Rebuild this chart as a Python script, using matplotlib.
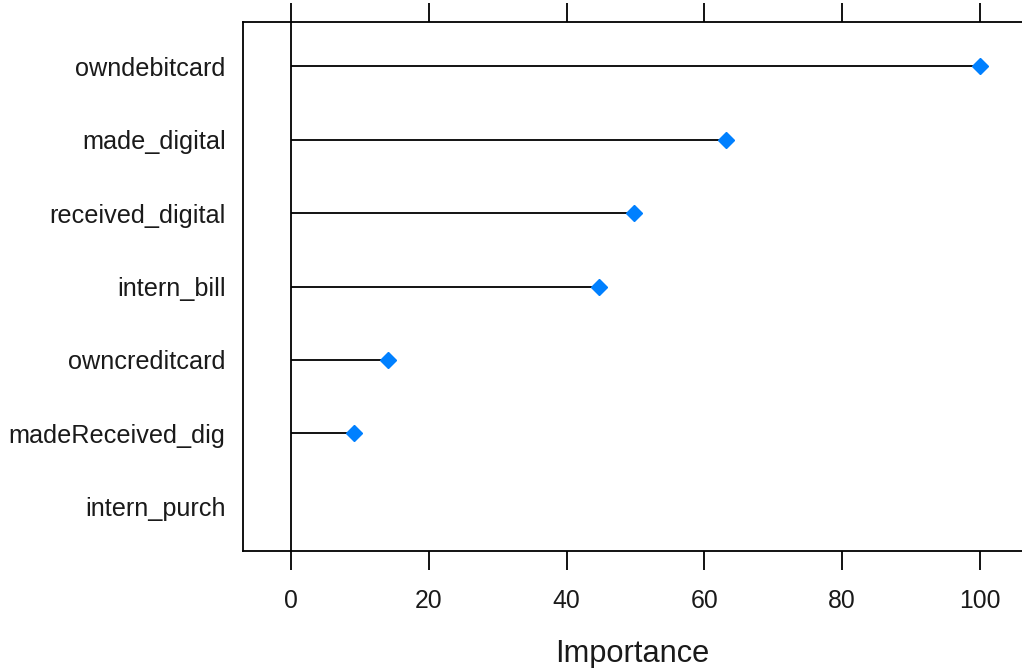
import numpy as np
import matplotlib
matplotlib.use('Agg')
import matplotlib.pyplot as plt

plt.rcParams['font.family'] = ['Liberation Sans', 'DejaVu Sans']

# datos de importancia (de arriba hacia abajo)
variables = ['owndebitcard', 'made_digital', 'received_digital', 'intern_bill',
             'owncreditcard', 'madeReceived_dig', 'intern_purch']
importancia = [100, 63.2, 49.8, 44.7, 14.1, 9.1, 0]
ticks_x = [0, 20, 40, 60, 80, 100]

fig = plt.figure(figsize=(10.22, 6.68), dpi=100)
ax = fig.add_axes([243/1022, 117/668, 1 - 243/1022, (551-22)/668])

pos = np.arange(1, len(variables) + 1)
imp = np.array(importancia)

# segmentos desde 0 hasta el valor
ax.hlines(pos, 0, imp, color='black', lw=1.3, zorder=2)
# el punto en cero no se ve en el original
vis = imp > 0
ax.plot(imp[vis], pos[vis], linestyle='none', marker='D', ms=8,
        color='#0080ff', zorder=3)
ax.axvline(0, color='black', lw=1.3, zorder=1)

ax.set_xlim(-6.97, 106.1)
ax.set_ylim(7.6, 0.4)
ax.set_yticks(pos)
ax.set_yticklabels(variables, fontsize=18.2, color='#1a1a1a')
ax.set_xticks(ticks_x)
ax.set_xticklabels([str(t) for t in ticks_x], fontsize=17.8, color='#1a1a1a')
ax.tick_params(axis='y', length=0, pad=12.5)
ax.tick_params(axis='x', direction='out', length=14, width=1.3,
               top=True, pad=13.5)
ax.set_xlabel('Importance', fontsize=22.2, color='#1a1a1a', labelpad=18.5)

for s in ['left', 'bottom', 'top']:
    ax.spines[s].set_linewidth(1.3)
ax.spines['right'].set_visible(False)

fig.savefig('out.png', dpi=100)
